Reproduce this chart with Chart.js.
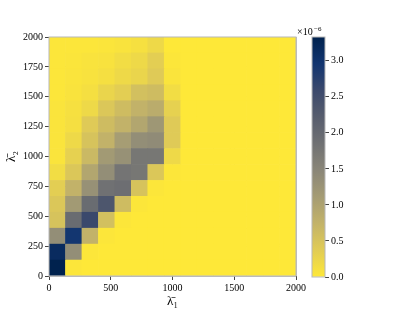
<!DOCTYPE html>
<html>
<head>
<meta charset="utf-8">
<script src="https://cdn.jsdelivr.net/npm/chart.js@4.4.0/dist/chart.umd.min.js"></script>
<style>
  html, body { margin: 0; padding: 0; background: #fff; }
  #wrap { position: relative; width: 399px; height: 312px; }
  #heatBox { position: absolute; left: 0; top: 0; width: 310px; height: 312px; }
  #barBox { position: absolute; left: 290px; top: 0; width: 109px; height: 312px; }
</style>
</head>
<body>
<div id="wrap">
  <div id="heatBox"><canvas id="heatmap"></canvas></div>
  <div id="barBox"><canvas id="colorbar"></canvas></div>
</div>
<script>
// histogram bins (same for both axes)
const binEdges = [0, 133.333, 266.667, 400, 533.333, 666.667, 800, 933.333, 1066.667,
                  1200, 1333.333, 1466.667, 1600, 1733.333, 1866.667, 2000];

// density in units of 1e-6, rows from bottom (lambda2 low) to top
const density = [
  [3.33, 0.02, 0,    0,    0,    0,    0,    0,    0, 0, 0, 0, 0, 0, 0],
  [3.15, 1.35, 0.02, 0,    0,    0,    0,    0,    0, 0, 0, 0, 0, 0, 0],
  [1.35, 2.95, 0.75, 0.02, 0,    0,    0,    0,    0, 0, 0, 0, 0, 0, 0],
  [0.50, 1.95, 2.60, 0.55, 0.02, 0,    0,    0,    0, 0, 0, 0, 0, 0, 0],
  [0.45, 1.15, 1.95, 2.35, 0.60, 0.02, 0,    0,    0, 0, 0, 0, 0, 0, 0],
  [0.35, 0.75, 1.30, 1.85, 1.90, 0.50, 0.02, 0,    0, 0, 0, 0, 0, 0, 0],
  [0.15, 0.45, 0.95, 1.35, 1.80, 1.75, 0.45, 0.02, 0, 0, 0, 0, 0, 0, 0],
  [0.05, 0.30, 0.65, 1.15, 1.30, 1.75, 1.75, 0.20, 0, 0, 0, 0, 0, 0, 0],
  [0.05, 0.20, 0.50, 0.75, 1.10, 1.35, 1.40, 0.40, 0, 0, 0, 0, 0, 0, 0],
  [0.05, 0.12, 0.40, 0.60, 0.75, 0.95, 1.20, 0.40, 0, 0, 0, 0, 0, 0, 0],
  [0.05, 0.10, 0.20, 0.45, 0.60, 0.75, 0.85, 0.30, 0, 0, 0, 0, 0, 0, 0],
  [0.03, 0.07, 0.12, 0.25, 0.35, 0.55, 0.60, 0.15, 0, 0, 0, 0, 0, 0, 0],
  [0.03, 0.05, 0.08, 0.12, 0.20, 0.25, 0.40, 0.05, 0, 0, 0, 0, 0, 0, 0],
  [0.02, 0.04, 0.06, 0.08, 0.15, 0.20, 0.35, 0.02, 0, 0, 0, 0, 0, 0, 0],
  [0.02, 0.03, 0.03, 0.04, 0.06, 0.10, 0.20, 0,    0, 0, 0, 0, 0, 0, 0]
];

const xTicks = [0, 500, 1000, 1500, 2000];
const yTicks = [0, 250, 500, 750, 1000, 1250, 1500, 1750, 2000];
const cbarTicks = [0, 0.5, 1.0, 1.5, 2.0, 2.5, 3.0];
const cbarMax = 3.33;

// cividis, dark -> yellow (used reversed)
const cividis = ["#00224e", "#123570", "#3b496c", "#575d6d", "#707173",
                 "#8a8678", "#a59c74", "#c3b369", "#e1cc55", "#fee838"];

const serif = "'Liberation Serif', 'DejaVu Serif', serif";
Chart.defaults.font.family = serif;
Chart.defaults.color = "#000";

function hexToRgb(h) {
    return [parseInt(h.slice(1, 3), 16), parseInt(h.slice(3, 5), 16), parseInt(h.slice(5, 7), 16)];
}

function densityColor(v) {
    let t = 1 - Math.min(Math.max(v / cbarMax, 0), 1);
    let pos = t * (cividis.length - 1);
    let i = Math.min(Math.floor(pos), cividis.length - 2);
    let f = pos - i;
    let a = hexToRgb(cividis[i]);
    let b = hexToRgb(cividis[i + 1]);
    let c = a.map((x, k) => Math.round(x + (b[k] - x) * f));
    return `rgb(${c[0]},${c[1]},${c[2]})`;
}

const framePlugin = {
    id: "frame",
    afterDraw(chart) {
        const { ctx, chartArea: a } = chart;
        ctx.save();
        ctx.strokeStyle = "#b8b8b8";
        ctx.lineWidth = 1;
        ctx.strokeRect(a.left, a.top, a.right - a.left, a.bottom - a.top);
        ctx.restore();
    }
};

const datasets = density.map((row, r) => ({
    data: row.map((v, c) => ({
        x: (binEdges[c] + binEdges[c + 1]) / 2,
        y: [binEdges[r], binEdges[r + 1]]
    })),
    backgroundColor: row.map(v => densityColor(v)),
    borderWidth: 0,
    barPercentage: 1,
    categoryPercentage: 1,
    grouped: false
}));

new Chart(document.getElementById("heatmap"), {
    type: "bar",
    data: { datasets: datasets },
    plugins: [framePlugin],
    options: {
        responsive: true,
        maintainAspectRatio: false,
        animation: false,
        layout: { padding: { left: 0, right: 14, top: 37, bottom: 0 } },
        plugins: { legend: { display: false }, tooltip: { enabled: false } },
        scales: {
            x: {
                type: "linear",
                min: 0,
                max: 2000,
                offset: false,
                z: 1,
                afterBuildTicks: s => { s.ticks = xTicks.map(v => ({ value: v })); },
                afterFit: s => { s.height = 36; },
                grid: { offset: false, color: "rgba(170,170,170,0.75)", lineWidth: 1, tickLength: 4, tickColor: "#444" },
                border: { display: false },
                ticks: { font: { size: 10 }, padding: 2, maxRotation: 0, callback: v => String(v) },
                title: { display: true, text: "\u03BB\u0304\u2081", font: { size: 13 }, padding: { top: 0, bottom: 3 } }
            },
            y: {
                type: "linear",
                min: 0,
                max: 2000,
                z: 1,
                afterBuildTicks: s => { s.ticks = yTicks.map(v => ({ value: v })); },
                afterFit: s => { s.width = 49; },
                grid: { color: "rgba(170,170,170,0.75)", lineWidth: 1, tickLength: 4, tickColor: "#444" },
                border: { display: false },
                ticks: { font: { size: 10 }, padding: 2, callback: v => String(v) },
                title: { display: true, text: "\u03BB\u0304\u2082", font: { size: 13 }, padding: { top: 4, bottom: 0 } }
            }
        }
    }
});

// colorbar
const cbarLabelPlugin = {
    id: "cbarLabel",
    afterDraw(chart) {
        const { ctx, chartArea: a } = chart;
        ctx.save();
        ctx.strokeStyle = "#b8b8b8";
        ctx.lineWidth = 1;
        ctx.strokeRect(a.left, a.top, a.right - a.left, a.bottom - a.top);
        ctx.fillStyle = "#000";
        ctx.textBaseline = "alphabetic";
        ctx.font = "10px " + serif;
        ctx.fillText("\u00D710", a.left - 15, a.top - 2);
        ctx.font = "7px " + serif;
        ctx.fillText("\u22126", a.left + 2, a.top - 6);
        ctx.restore();
    }
};

new Chart(document.getElementById("colorbar"), {
    type: "bar",
    data: {
        labels: [""],
        datasets: [{
            data: [[0, cbarMax]],
            backgroundColor: c => {
                const area = c.chart.chartArea;
                if (!area) return cividis[5];
                const g = c.chart.ctx.createLinearGradient(0, area.bottom, 0, area.top);
                const n = cividis.length;
                cividis.forEach((col, i) => g.addColorStop(i / (n - 1), cividis[n - 1 - i]));
                return g;
            },
            borderWidth: 0,
            barPercentage: 1,
            categoryPercentage: 1
        }]
    },
    plugins: [cbarLabelPlugin],
    options: {
        responsive: true,
        maintainAspectRatio: false,
        animation: false,
        layout: { padding: { left: 22, right: 34, top: 37, bottom: 35 } },
        plugins: { legend: { display: false }, tooltip: { enabled: false } },
        scales: {
            x: { display: false },
            y: {
                position: "right",
                min: 0,
                max: cbarMax,
                afterBuildTicks: s => { s.ticks = cbarTicks.map(v => ({ value: v })); },
                afterFit: s => { s.width = 40; },
                grid: { drawOnChartArea: false, tickLength: 4, tickColor: "#444" },
                border: { display: false },
                ticks: { font: { size: 10 }, padding: 2, callback: v => v.toFixed(1) }
            }
        }
    }
});
</script>
</body>
</html>
